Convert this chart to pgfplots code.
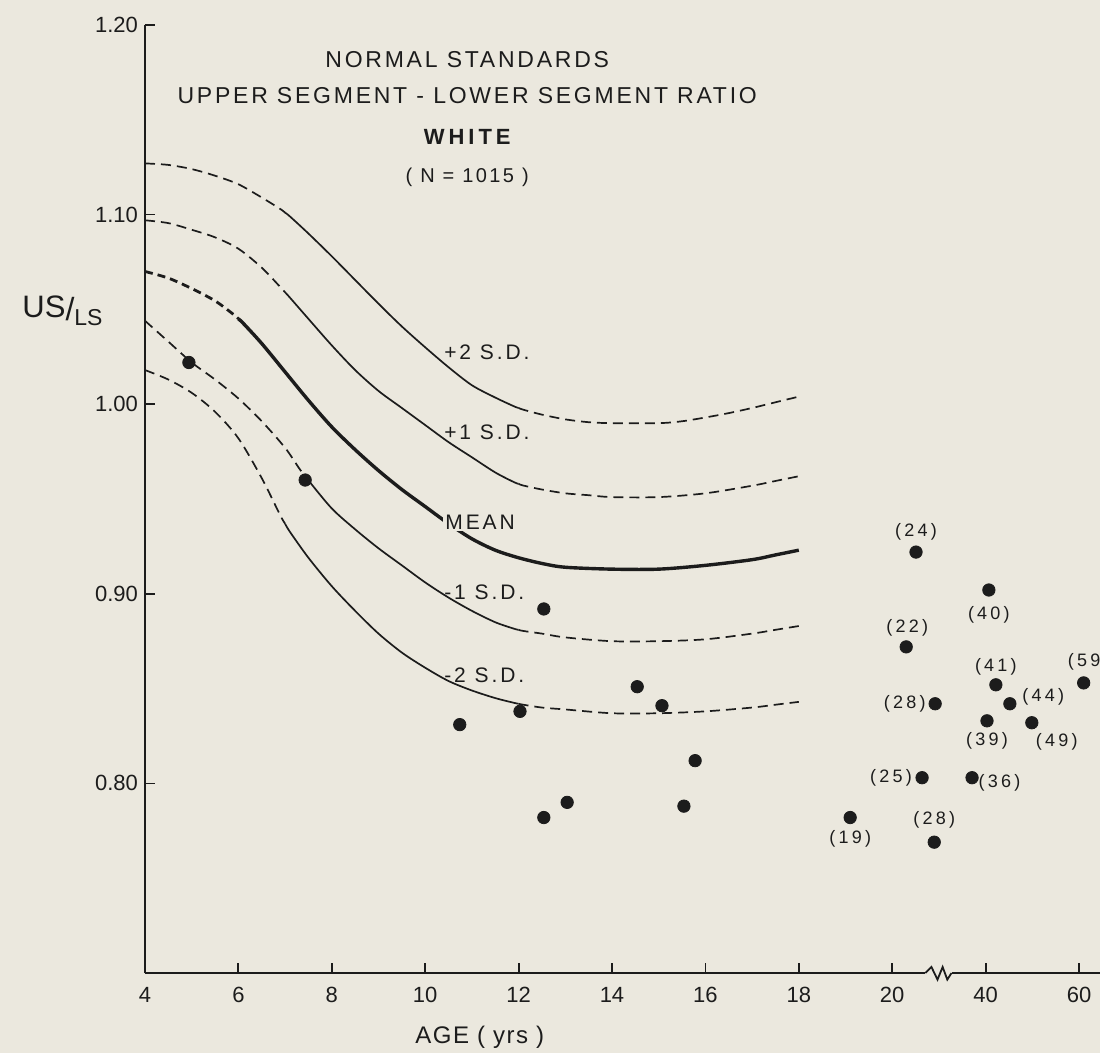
\documentclass[border=0pt]{standalone}
\usepackage{pgfplots}
\pgfplotsset{compat=1.18}
\usepackage{pgfplotstable}
\usepackage{fontspec}
\setmainfont{Liberation Sans}
\newfontfamily\spaced[LetterSpace=12]{Liberation Sans}
\newfontfamily\wide[LetterSpace=18]{Liberation Sans}
\newfontfamily\sdfont[LetterSpace=14]{Liberation Sans}
\newfontfamily\agefont[LetterSpace=6]{Liberation Sans}
\newfontfamily\lbl[LetterSpace=18]{Liberation Sans}
\usetikzlibrary{backgrounds}
\definecolor{bg}{RGB}{235,232,222}
\definecolor{ink}{RGB}{28,28,28}

% +2 SD
\pgfplotstableread{
x y
4 1.127
4.5 1.1262
5 1.124
5.5 1.1205
6 1.116
6.5 1.109
6.9 1.1029
7 1.101
}\ptwoA
\pgfplotstableread{
x y
7 1.101
7.1 1.0991
7.5 1.090
8 1.078
8.5 1.0655
9 1.053
9.5 1.041
10 1.030
10.5 1.0195
11 1.010
11.5 1.0035
11.9 0.9989
12 0.998
}\ptwoB
\pgfplotstableread{
x y
12 0.998
12.1 0.9971
12.5 0.9945
13 0.992
13.5 0.9905
14 0.990
15 0.990
15.5 0.991
16 0.993
16.5 0.9953
17 0.998
17.5 1.001
18 1.004
}\ptwoC
% +1 SD
\pgfplotstableread{
x y
4 1.097
4.5 1.0955
5 1.092
5.5 1.088
6 1.082
6.5 1.072
6.9 1.0617
7 1.059
}\poneA
\pgfplotstableread{
x y
7 1.059
7.1 1.0563
7.5 1.045
8 1.031
8.5 1.018
9 1.007
9.5 0.998
10 0.989
10.5 0.980
11 0.972
11.5 0.964
11.9 0.9589
12 0.958
}\poneB
\pgfplotstableread{
x y
12 0.958
12.1 0.9571
12.5 0.955
13 0.953
13.5 0.952
14 0.951
15 0.951
16 0.953
17 0.957
17.5 0.9595
18 0.962
}\poneC
% mean
\pgfplotstableread{
x y
4 1.070
4.5 1.0665
5 1.061
5.5 1.0545
5.9 1.04725
6 1.045
}\meanA
\pgfplotstableread{
x y
6 1.045
6.1 1.04275
6.5 1.032
7 1.017
7.5 1.002
8 0.988
8.5 0.976
9 0.965
9.5 0.955
10 0.946
10.5 0.937
11 0.929
11.5 0.923
12 0.919
12.5 0.916
13 0.914
14 0.913
15 0.913
16 0.915
17 0.918
17.5 0.9205
18 0.923
}\meanB
% -1 SD
\pgfplotstableread{
x y
4 1.044
4.5 1.033
5 1.022
5.5 1.013
6 1.003
6.5 0.991
7 0.977
7.3 0.9662
7.4 0.963
}\noneA
\pgfplotstableread{
x y
7.4 0.963
7.5 0.9598
8 0.945
8.5 0.934
9 0.924
9.5 0.915
10 0.906
10.5 0.898
11 0.891
11.5 0.885
11.9 0.8816
12 0.881
}\noneB
\pgfplotstableread{
x y
12 0.881
12.1 0.8804
12.5 0.879
13 0.877
14 0.875
15 0.875
16 0.876
17 0.879
17.5 0.881
18 0.883
}\noneC
% -2 SD
\pgfplotstableread{
x y
4 1.018
4.5 1.013
5 1.006
5.5 0.996
6 0.982
6.5 0.961
6.9 0.9412
7 0.937
}\ntwoA
\pgfplotstableread{
x y
7 0.937
7.1 0.9328
7.5 0.919
8 0.904
8.5 0.891
9 0.879
9.5 0.869
10 0.861
10.5 0.854
11 0.849
11.5 0.845
11.9 0.8425
12 0.842
}\ntwoB
\pgfplotstableread{
x y
12 0.842
12.1 0.8415
12.5 0.840
13 0.839
14 0.837
15 0.837
16 0.838
17 0.840
17.5 0.8415
18 0.843
}\ntwoC
% children / adolescents
\pgfplotstableread{
x y
4.94 1.022
7.43 0.960
10.74 0.831
12.03 0.838
12.54 0.892
12.54 0.782
13.04 0.790
14.54 0.851
15.07 0.841
15.54 0.788
15.78 0.812
}\young
% adults (age in label)
\pgfplotstableread{
x y lab dx dy
19.10 0.782 19 0 -10.8
20.30 0.872 22 0.5 9.7
20.51 0.922 24 0 10.3
20.64 0.803 25 -15.5 0
20.92 0.842 28 -15.2 0
20.90 0.769 28 0 11.3
21.71 0.803 36 13.7 -2.8
22.07 0.902 40 0 -12.5
22.03 0.833 39 0 -10
22.22 0.852 41 0 8.8
22.52 0.842 44 16.7 3.7
22.99 0.832 49 12.5 -9.5
24.10 0.853 59 2.5 10.3
}\adult

\begin{document}
\begin{tikzpicture}[show background rectangle, inner frame sep=0pt,
  background rectangle/.style={fill=bg, draw=none}]
\begin{axis}[
  scale only axis, width=477.5pt, height=474pt,
  xmin=4, xmax=24.45, ymin=0.70, ymax=1.20,
  axis lines=left, axis line style={-, line width=1pt, draw=ink},
  xtick={4,6,8,10,12,14,16,18,20,22,24},
  xticklabels={4,6,8,10,12,14,16,18,20,40,60},
  ytick={0.8,0.9,1.0,1.1,1.2},
  yticklabels={0.80,0.90,1.00,1.10,1.20},
  tick align=inside, major tick length=5pt,
  tick style={line width=0.9pt, draw=ink},
  ticklabel style={font=\fontsize{11}{13}\selectfont, text=ink},
  xticklabel style={yshift=-3.5pt},
  clip=false,
  thin/.style={ink, line width=0.85pt, smooth},
  dsh/.style={ink, line width=0.85pt, smooth, dash pattern=on 5pt off 3pt},
]
% +2 SD
\addplot[dsh] table {\ptwoA};
\addplot[thin] table {\ptwoB};
\addplot[dsh] table {\ptwoC};
% +1 SD
\addplot[dsh] table {\poneA};
\addplot[thin] table {\poneB};
\addplot[dsh] table {\poneC};
% mean
\addplot[ink, line width=1.4pt, smooth, dash pattern=on 4pt off 2.5pt] table {\meanA};
\addplot[ink, line width=1.7pt, smooth] table {\meanB};
% -1 SD
\addplot[dsh] table {\noneA};
\addplot[thin] table {\noneB};
\addplot[dsh] table {\noneC};
% -2 SD
\addplot[dsh] table {\ntwoA};
\addplot[thin] table {\ntwoB};
\addplot[dsh] table {\ntwoC};

\addplot[only marks, mark=*, mark size=3.1pt, mark options={fill=ink, draw=ink}] table {\young};
\addplot[only marks, mark=*, mark size=3.1pt, mark options={fill=ink, draw=ink},
  point meta=explicit symbolic,
  visualization depends on={\thisrow{dx}\as\dx},
  visualization depends on={\thisrow{dy}\as\dy},
  nodes near coords={(\pgfplotspointmeta)},
  every node near coord/.append style={anchor=center, xshift=\dx pt, yshift=\dy pt,
     font=\lbl\fontsize{9}{10}\selectfont, text=ink, inner sep=0pt},
] table[x=x, y=y, meta=lab] {\adult};

% titles
\node[text=ink, font=\spaced\fontsize{11.5}{13}\selectfont] at (axis cs:10.9,1.1816) {NORMAL STANDARDS};
\node[text=ink, font=\spaced\fontsize{11.5}{13}\selectfont] at (axis cs:10.9,1.163) {UPPER SEGMENT - LOWER SEGMENT RATIO};
\node[text=ink, font=\wide\bfseries\fontsize{11}{13}\selectfont] at (axis cs:10.9,1.141) {WHITE};
\node[text=ink, font=\spaced\fontsize{10}{12}\selectfont] at (axis cs:10.9,1.1197) {( N = 1015 )};

% curve labels
\node[anchor=west, text=ink, font=\sdfont\fontsize{10.5}{12}\selectfont, inner sep=0pt] at (axis cs:10.40,1.0274) {+2 S.D.};
\node[anchor=west, text=ink, font=\sdfont\fontsize{10.5}{12}\selectfont, inner sep=0pt] at (axis cs:10.40,0.985) {+1 S.D.};
\node[anchor=west, text=ink, font=\sdfont\fontsize{10.5}{12}\selectfont, inner sep=1pt, fill=bg] at (axis cs:10.38,0.9378) {MEAN};
\node[anchor=west, text=ink, font=\sdfont\fontsize{10.5}{12}\selectfont, inner sep=0pt] at (axis cs:10.40,0.901) {-1 S.D.};
\node[anchor=west, text=ink, font=\sdfont\fontsize{10.5}{12}\selectfont, inner sep=0pt] at (axis cs:10.40,0.857) {-2 S.D.};

% axis descriptions
\node[text=ink, font=\agefont\fontsize{12}{13}\selectfont] at ([yshift=-32pt]axis cs:11.17,0.70) {AGE ( yrs )};
\node[text=ink] at ([xshift=-41.25pt]axis cs:4,1.049)
  {{\fontsize{15.5}{16}\selectfont US}\raisebox{-1.2pt}{\fontsize{16}{16}\selectfont/}\raisebox{-4pt}{\fontsize{11.5}{12}\selectfont LS}};

\coordinate (bbSW) at (axis cs:4,0.70);
\coordinate (bbNE) at (axis cs:24.45,1.20);
\coordinate (zA) at (axis cs:20.71,0.70);
\coordinate (zB) at (axis cs:20.84,0.70);
\coordinate (zC) at (axis cs:20.97,0.70);
\coordinate (zD) at (axis cs:21.08,0.70);
\coordinate (zE) at (axis cs:21.18,0.70);
\coordinate (zF) at (axis cs:21.27,0.70);
\end{axis}
% axis break
\fill[bg] ([yshift=-1.5pt]zA) rectangle ([yshift=1.5pt]zF);
\draw[ink, line width=0.9pt, line join=miter] (zA) -- ([yshift=3pt]zB) -- ([yshift=-3.3pt]zC) -- ([yshift=3pt]zD) -- ([yshift=-3.3pt]zE) -- (zF);
\pgfresetboundingbox
\path ([xshift=-72.5pt,yshift=-40pt]bbSW) rectangle ([yshift=12.5pt]bbNE);
\end{tikzpicture}
\end{document}
